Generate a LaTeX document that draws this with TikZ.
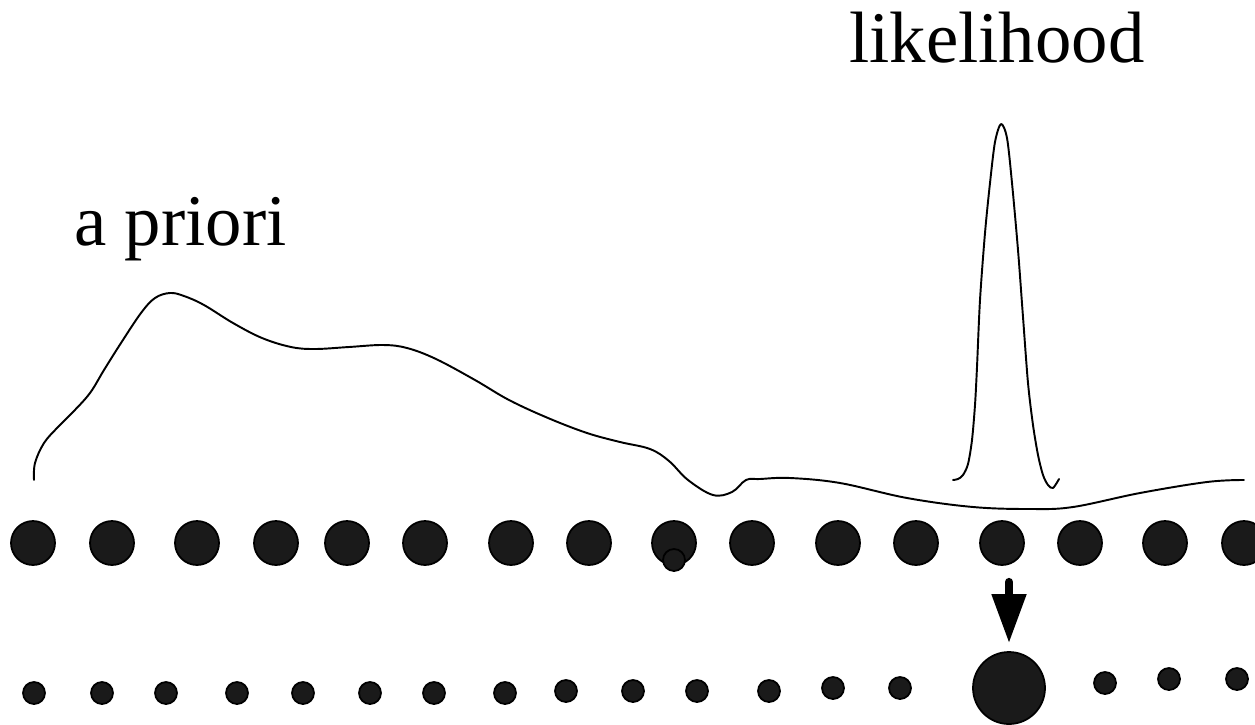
\documentclass[tikz,border=0pt]{standalone}
\usepackage{fontspec}
\setmainfont{Liberation Serif}
\usetikzlibrary{arrows.meta}
\definecolor{dotfill}{HTML}{1A1A1A}
\tikzset{
  curve/.style={draw=black, line width=1.1pt, line join=round, line cap=round},
  dotbase/.style={circle, draw=black, fill=dotfill, line width=1pt, inner sep=0pt},
  bigdot/.style={dotbase, minimum size=0.88cm},
  smalldot/.style={dotbase, minimum size=0.44cm},
  chosen/.style={dotbase, minimum size=1.44cm},
  label/.style={inner sep=0pt, anchor=base west, font=\fontsize{41.4pt}{50pt}\selectfont},
  pick/.style={draw=black, line width=0.16cm, line cap=round,
    -{Triangle[length=0.98cm, width=0.66cm]},
    shorten <=0.32cm, shorten >=0.16cm}
}
\begin{document}
\begin{tikzpicture}[x=0.02cm, y=-0.02cm]
\useasboundingbox (0,0) rectangle (1255,724);
\begin{scope}
\clip (0,0) rectangle (1255,724);

% labels
\node[label] (lik) at (849,62) {likelihood};
\node[label] (pri) at (74,245) {a priori};

% prior density, running into the flat tail on the right
\draw[curve] plot[smooth, tension=0.6] coordinates {
  (34,480) (35,463) (44,443) (58,427) (73,412) (90,393) (104,370)
  (121,343) (141,313) (155,298) (170,293) (184,296) (204,305) (233,323)
  (262,338) (291,347) (315,349) (349,347) (383,345) (407,348) (436,359)
  (475,380) (509,400) (548,418) (587,433) (620,442) (650,449) (669,461)
  (688,480) (713,495) (732,492) (746,480)
  (760,479) (790,478) (840,483) (907,498) (973,507) (1030,509) (1073,507)
  (1140,493) (1207,482) (1244,480)};

% narrow likelihood peak
\draw[curve] plot[smooth, tension=0.5] coordinates {
  (953,480) (958,479) (963,475) (968,464) (972,440) (975,405) (977,367)
  (980,300) (985,233) (990,183) (995,142) (1001,124) (1007,138) (1012,183)
  (1018,250) (1023,317) (1028,383) (1033,425) (1038,455) (1043,475)
  (1048,485) (1053,488) (1059,479)};

% particle set before resampling
\foreach \x [count=\i] in {33,112,197,276,347,425,511,589,674,752,838,916,1002,1080,1165,1244}
  \node[bigdot] (b\i) at (\x,543) {};
\node[smalldot] (extra) at (674,560) {};

% particle set after resampling
\foreach \x/\y [count=\i] in {34/693,102/693,166/693,237/693,303/693,370/693,434/693,505/693,566/691,633/691,697/691,769/691,833/688,900/688}
  \node[smalldot] (s\i) at (\x,\y) {};
\node[chosen] (sel) at (1009,688) {};
\foreach \x/\y [count=\i] in {1105/683,1169/679,1237/679}
  \node[smalldot] (t\i) at (\x,\y) {};

% resampling arrow
\draw[pick] (sel |- b13.south) -- (sel.north);
\end{scope}
\end{tikzpicture}
\end{document}
